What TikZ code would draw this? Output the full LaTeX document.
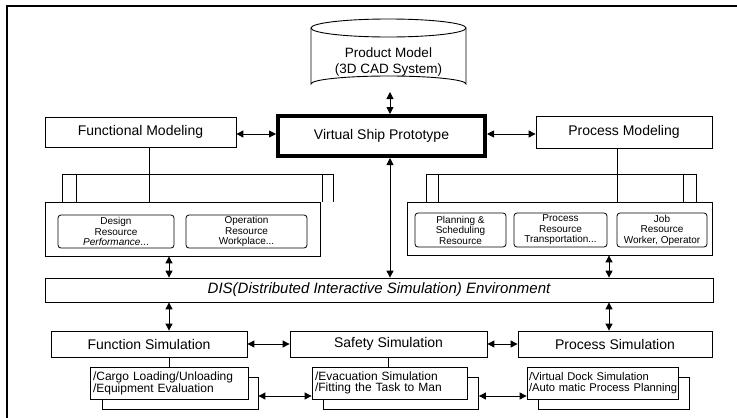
\documentclass[tikz,border=0pt]{standalone}
\usepackage{fontspec}
\setmainfont{Liberation Sans}
\usetikzlibrary{arrows.meta,calc}
\tikzset{
  box/.style={draw, line width=0.8pt, fill=white, inner sep=0pt, align=center,
    font=\fontsize{14}{16}\selectfont},
  resbox/.style={draw, line width=0.8pt, rounded corners=3pt, inner sep=0pt, align=center,
    font=\fontsize{10}{10.5}\selectfont},
  group/.style={draw, line width=0.8pt, inner sep=0pt},
  detail/.style={draw, line width=0.8pt, fill=white, inner xsep=3pt, inner ysep=0pt,
    align=left, font=\fontsize{12}{11}\selectfont, minimum height=32pt},
  shadowbox/.style={draw, line width=0.8pt, fill=white, inner sep=0pt, minimum height=32pt},
  dbl/.style={{Triangle[length=7pt,width=7pt]}-{Triangle[length=7pt,width=7pt]}, line width=0.9pt},
  link/.style={line width=0.9pt}
}
\begin{document}
\begin{tikzpicture}[x=1pt,y=-1pt]
\useasboundingbox (0,0) rectangle (737,418);
% frame
\draw[line width=1.2pt] (7,418) -- (7,6) -- (737,6);

% product model database
\draw[line width=0.9pt] (311,28) -- (311,84)
  arc[start angle=180,end angle=360,x radius=77.5,y radius=8] -- (466,28);
\draw[line width=0.9pt] (388.5,28) ellipse [x radius=77.5, y radius=9];
\node[align=center, font=\fontsize{13.5}{16.5}\selectfont] (pmodel) at (388.5,62)
  {Product Model\\(3D CAD System)};
\coordinate (cylb) at (390,92);

% modeling row
\node[box, minimum width=191pt, minimum height=30pt] (fm) at (140.5,132) {Functional Modeling};
\node[box, line width=4pt, minimum width=207pt, minimum height=40pt] (vsp) at (381.5,136) {Virtual Ship Prototype};
\node[box, minimum width=176pt, minimum height=32pt] (pm) at (624,132) {Process Modeling};

% resource groups
\node[group, minimum width=275pt, minimum height=54pt] (frb) at (182.5,229) {};
\node[resbox, minimum width=116pt, minimum height=33pt] (dr) at (116,231.5)
  {Design\\Resource\\\textit{Performance}...};
\node[resbox, minimum width=121pt, minimum height=33pt] (opr) at (246.5,231.5)
  {Operation\\Resource\\Workplace...};

\node[group, minimum width=305pt, minimum height=53pt] (prb) at (559.5,228.5) {};
\node[resbox, minimum width=91pt, minimum height=34pt] (psr) at (460.5,230)
  {Planning \&\\Scheduling\\Resource};
\node[resbox, minimum width=93pt, minimum height=34pt] (prr) at (560.5,230)
  {Process\\Resource\\Transportation...};
\node[resbox, minimum width=90pt, minimum height=34pt] (jr) at (662,230)
  {Job\\Resource\\Worker, Operator};

% brackets above the resource groups
\draw[link] (62,202) |- (333,174) -- (333,202);
\draw[link] (76,174) -- (76,202);
\draw[link] (322,174) -- (322,202);
\draw[link] (426,202) |- (696,174) -- (696,202);
\draw[link] (438,174) -- (438,202);
\draw[link] (683,174) -- (683,202);

\coordinate (lx) at (149,0);
\coordinate (rx) at (617,0);
\draw[link] (fm.south -| lx) -- (frb.north -| lx);
\draw[link] (pm.south -| rx) -- (prb.north -| rx);

% DIS environment
\node[box, minimum width=668pt, minimum height=24pt, font=\fontsize{15}{16}\selectfont\itshape] (dis) at (379,290)
  {DIS(Distributed Interactive Simulation) Environment};

% simulation row
\node[box, minimum width=196pt, minimum height=26pt] (fs) at (149,344) {Function Simulation};
\node[box, minimum width=197pt, minimum height=26pt] (ss) at (388.5,344) {Safety Simulation};
\node[box, minimum width=194pt, minimum height=26pt] (psim) at (615,344) {Process Simulation};

% detail cards (each with a card behind it)
\node[shadowbox, minimum width=156pt] (fdb) at (180,393) {};
\node[detail, text width=152pt] (fd) at (169,383)
  {\mbox{/Cargo Loading/Unloading}\\\mbox{/Equipment Evaluation}};
\node[shadowbox, minimum width=155pt] (sdb) at (401,393) {};
\node[detail, text width=149pt] (sd) at (389.5,383)
  {\mbox{/Evacuation Simulation}\\\mbox{/Fitting the Task to Man}};
\node[shadowbox, minimum width=151pt] (pdb) at (614,393) {};
\node[detail, text width=147pt, inner xsep=2pt, font=\fontsize{11.2}{11}\selectfont] (pd) at (602.5,383)
  {\mbox{/Virtual Dock Simulation}\\\mbox{/Auto matic Process Planning}};

% connectors
\coordinate (fx) at (169,0);
\coordinate (px) at (609,0);
\draw[dbl] (cylb) -- (vsp.north -| cylb);
\draw[dbl] (fm.east |- 0,134) -- (vsp.west |- 0,134);
\draw[dbl] (vsp.east |- 0,134) -- (pm.west |- 0,134);
\draw[dbl] (vsp.south -| cylb) -- (dis.north -| cylb);
\draw[dbl] (frb.south -| fx) -- (dis.north -| fx);
\draw[dbl] (prb.south -| px) -- (dis.north -| px);
\draw[dbl] (dis.south -| fx) -- (fs.north -| fx);
\draw[dbl] (dis.south -| px) -- (psim.north -| px);
\draw[dbl] (fs) -- (ss);
\draw[dbl] (ss) -- (psim);
\draw[link] (fs.south -| fx) -- (fd.north -| fx);
\draw[link] (ss.south) -- (ss.south |- sd.north);
\draw[dbl] (fdb.east |- 0,396) -- (sd.west |- 0,396);
\draw[dbl] (sdb.east |- 0,396) -- (pd.west |- 0,396);
\end{tikzpicture}
\end{document}
